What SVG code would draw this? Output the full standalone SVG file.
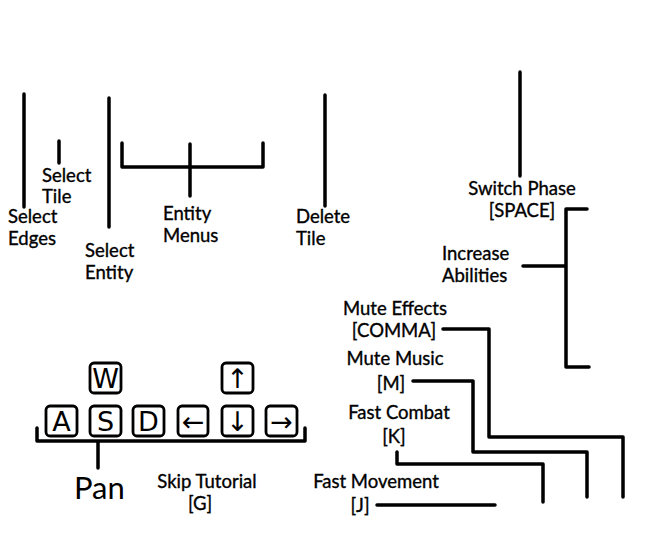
<svg xmlns="http://www.w3.org/2000/svg" width="653" height="534" viewBox="0 0 653 534">
<style>
.l{fill:none;stroke:#000;stroke-width:3.5;stroke-linecap:round;stroke-linejoin:round}
.t{font-family:Lato,"Open Sans",sans-serif;font-size:18.5px;fill:#000;stroke:#000;stroke-width:0.35}
.c{text-anchor:middle}
.k{fill:#fff;stroke:#000;stroke-width:2.8}
.kt{font-family:"DejaVu Sans",sans-serif;font-size:27px;fill:#000;text-anchor:middle}
</style>
<rect width="653" height="534" fill="#fff"/>
<g id="connectors">
<path class="l" d="M24 94V207"/>
<path class="l" d="M59 141V163"/>
<path class="l" d="M109 98V227"/>
<path class="l" d="M122 143V167H263V143M190 144V196"/>
<path class="l" d="M325 95V206"/>
<path class="l" d="M520 72V176"/>
<path class="l" d="M587 209H566V367H589M523 266H566"/>
<path class="l" d="M443 329H489V437H623V497"/>
<path class="l" d="M413 381H473V452H587V497"/>
<path class="l" d="M397 452V464H543V502"/>
<path class="l" d="M377 505H495"/>
<path class="l" d="M37 428V441H305V428M98 441V468"/>
</g>
<g id="select-edges"><text class="t" x="8" y="223">Select</text><text class="t" x="8" y="245">Edges</text></g>
<g id="select-tile"><text class="t" x="42" y="182">Select</text><text class="t" x="42" y="203">Tile</text></g>
<g id="select-entity"><text class="t" x="85" y="257">Select</text><text class="t" x="85" y="279">Entity</text></g>
<g id="entity-menus"><text class="t" x="163" y="220">Entity</text><text class="t" x="163" y="242">Menus</text></g>
<g id="delete-tile"><text class="t" x="296" y="223">Delete</text><text class="t" x="296" y="245">Tile</text></g>
<g id="switch-phase"><text class="t c" x="522" y="195">Switch Phase</text><text class="t c" x="522" y="217">[SPACE]</text></g>
<g id="increase-abilities"><text class="t" x="442" y="260">Increase</text><text class="t" x="442" y="282">Abilities</text></g>
<g id="mute-effects"><text class="t c" x="395" y="315">Mute Effects</text><text class="t c" x="394" y="337">[COMMA]</text></g>
<g id="mute-music"><text class="t c" x="395" y="365">Mute Music</text><text class="t c" x="391" y="390">[M]</text></g>
<g id="fast-combat"><text class="t c" x="399" y="419">Fast Combat</text><text class="t c" x="394" y="443">[K]</text></g>
<g id="fast-movement"><text class="t c" x="376" y="488">Fast Movement</text><text class="t c" x="360" y="512">[J]</text></g>
<g id="skip-tutorial"><text class="t c" x="207" y="488">Skip Tutorial</text><text class="t c" x="200" y="510">[G]</text></g>
<g id="pan"><text x="74" y="499" style="font-family:Lato,'Open Sans',sans-serif;font-size:31px;fill:#000">Pan</text></g>
<g id="keys">
<g id="key-w"><rect class="k" x="90" y="363" width="31" height="30" rx="4"/><text class="kt" x="105.5" y="388">W</text></g>
<g id="key-up"><rect class="k" x="222" y="363" width="31" height="30" rx="4"/><text class="kt" x="237.5" y="388">↑</text></g>
<g id="key-a"><rect class="k" x="46" y="406" width="31" height="30" rx="4"/><text class="kt" x="61.5" y="431">A</text></g>
<g id="key-s"><rect class="k" x="90" y="406" width="31" height="30" rx="4"/><text class="kt" x="105.5" y="431">S</text></g>
<g id="key-d"><rect class="k" x="133" y="406" width="31" height="30" rx="4"/><text class="kt" x="148.5" y="431">D</text></g>
<g id="key-left"><rect class="k" x="178" y="406" width="30" height="30" rx="4"/><text class="kt" x="193" y="431">←</text></g>
<g id="key-down"><rect class="k" x="222" y="406" width="31" height="30" rx="4"/><text class="kt" x="237.5" y="431">↓</text></g>
<g id="key-right"><rect class="k" x="266" y="406" width="31" height="30" rx="4"/><text class="kt" x="281.5" y="431">→</text></g>
</g>
</svg>
